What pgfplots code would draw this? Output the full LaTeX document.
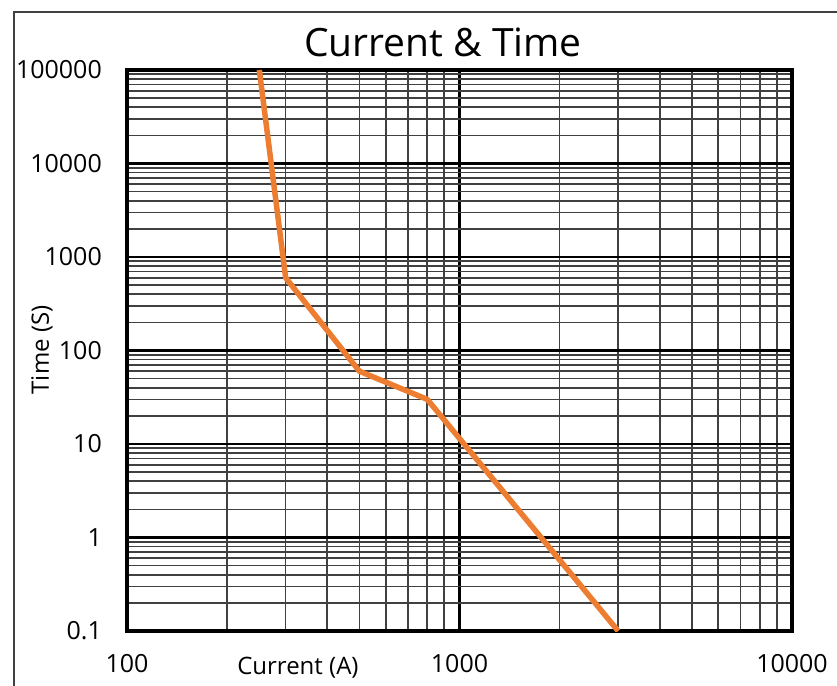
\documentclass[border=0pt]{standalone}
\usepackage{pgfplots}
\pgfplotsset{compat=1.18}
\usepackage{fontspec}
\setmainfont{Open Sans}
\definecolor{lineorange}{HTML}{ED7D31}
\definecolor{minorgray}{HTML}{404040}
\begin{document}
\begin{tikzpicture}[x=1pt,y=1pt]
\path[use as bounding box] (0,0) rectangle (837,685);
\draw[line width=1.4pt, color=black!75] (14,-5) -- (14,673) -- (842,673);
\begin{axis}[
  at={(127pt,54pt)}, anchor=south west,
  scale only axis, width=665pt, height=561pt,
  xmode=log, ymode=log,
  xmin=100, xmax=10000, ymin=0.1, ymax=100000,
  xtick={100,1000,10000}, xticklabels={100,1000,10000},
  ytick={0.1,1,10,100,1000,10000,100000},
  yticklabels={0.1,1,10,100,1000,10000,100000},
  grid=both,
  major grid style={black, line width=2.8pt},
  minor grid style={minorgray, line width=1.6pt},
  major tick length=0pt, minor tick length=0pt,
  axis line style={black, line width=3.2pt},
  tick label style={font=\fontsize{25}{28}\selectfont},
  xticklabel style={anchor=base, yshift=-41pt, inner sep=0pt},
  yticklabel style={anchor=east, xshift=-25pt, inner sep=0pt},
  title={Current \& Time},
  title style={font=\fontsize{39}{44}\selectfont, at={(axis description cs:0.475,1)}, anchor=base, yshift=7pt, inner sep=0pt},
  xlabel={Current (A)},
  xlabel style={font=\fontsize{24}{28}\selectfont, at={(axis description cs:0.257,0)}, anchor=base, yshift=-43pt, inner sep=0pt},
  ylabel={Time (S)},
  ylabel style={font=\fontsize{24}{28}\selectfont, at={(axis description cs:0,0.501)}, anchor=center, yshift=85pt, inner sep=0pt},
]
\addplot[lineorange, line width=5.5pt, line join=round] coordinates {
  (250,100000) (300,600) (500,60) (800,30) (3000,0.1)
};
\end{axis}
\end{tikzpicture}
\end{document}
